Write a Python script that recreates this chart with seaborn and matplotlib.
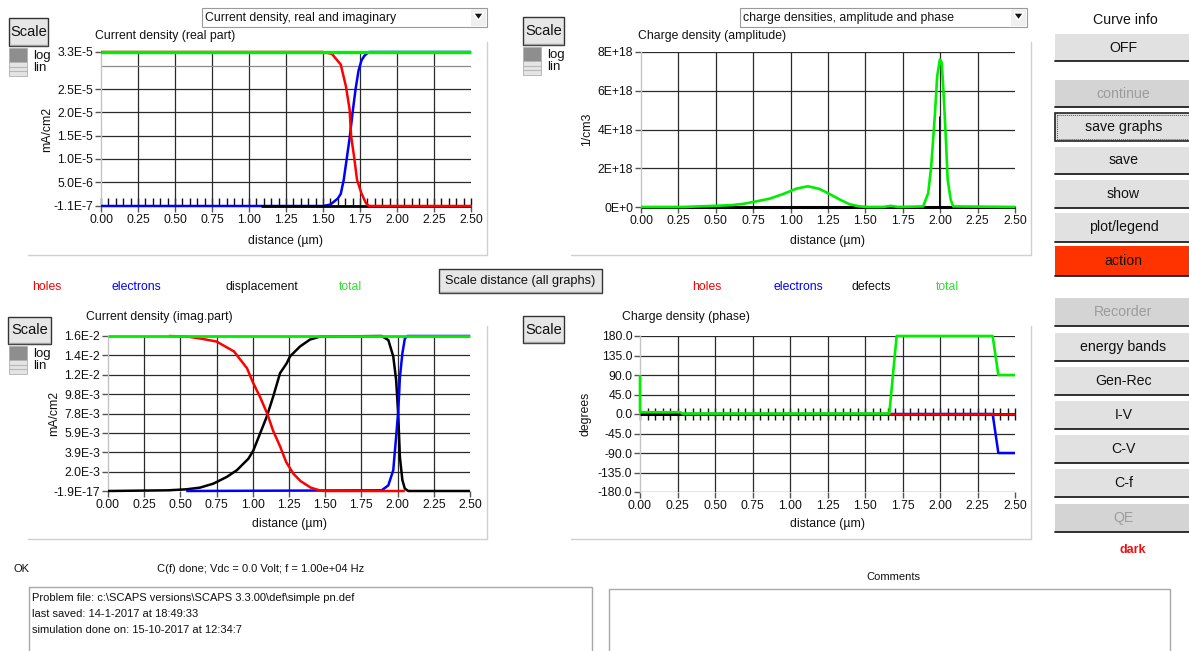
import matplotlib
matplotlib.use('Agg')
import matplotlib.pyplot as plt
import seaborn as sns
from matplotlib.patches import Rectangle, Polygon
from matplotlib.ticker import MultipleLocator, NullFormatter

# ---------------- data ----------------
x_ticks = [0.0, 0.25, 0.5, 0.75, 1.0, 1.25, 1.5, 1.75, 2.0, 2.25, 2.5]
x_tick_labels = ['0.00', '0.25', '0.50', '0.75', '1.00', '1.25', '1.50', '1.75', '2.00', '2.25', '2.50']

# Top-left: Current density (real part), mA/cm2
tl_y_ticks = [-1.1e-7, 5.0e-6, 1.0e-5, 1.5e-5, 2.0e-5, 2.5e-5, 3.0e-5, 3.3e-5]
tl_y_tick_labels = ['-1.1E-7', '5.0E-6', '1.0E-5', '1.5E-5', '2.0E-5', '2.5E-5', '', '3.3E-5']
tl_electrons_x = [0.0, 1.50, 1.55, 1.60, 1.62, 1.64, 1.66, 1.68, 1.70, 1.72, 1.74, 1.76, 1.78, 1.81, 2.50]
tl_electrons_y = [-1.1e-7, -1.1e-7, 2e-7, 1.5e-6, 2.5e-6, 5.5e-6, 1.0e-5, 1.45e-5, 2.0e-5, 2.5e-5, 2.9e-5, 3.12e-5, 3.22e-5, 3.3e-5, 3.3e-5]
tl_displacement_x = [1.08, 2.50]
tl_displacement_y = [-1.1e-7, -1.1e-7]
tl_holes_x = [0.0, 1.50, 1.56, 1.62, 1.655, 1.68, 1.69, 1.71, 1.73, 1.76, 1.79, 1.81, 2.50]
tl_holes_y = [3.3e-5, 3.3e-5, 3.26e-5, 3.03e-5, 2.56e-5, 2.06e-5, 1.49e-5, 1.05e-5, 5.5e-6, 2.6e-6, 5e-7, -1.1e-7, -1.1e-7]
tl_total_x = [0.0, 2.50]
tl_total_y = [3.3e-5, 3.3e-5]

# Top-right: Charge density (amplitude), 1/cm3
tr_y_ticks = [0, 2e18, 4e18, 6e18, 8e18]
tr_y_tick_labels = ['0E+0', '2E+18', '4E+18', '6E+18', '8E+18']
tr_defects_x = [0.0, 2.50]
tr_defects_y = [0.0, 0.0]
tr_interface_x = [1.993, 1.993]
tr_interface_y = [0.0, 4.7e18]
tr_total_x = [0.0, 0.28, 0.525, 0.61, 0.69, 0.77, 0.86, 0.95, 1.04, 1.116, 1.194, 1.26, 1.33, 1.395, 1.46, 1.51,
              1.62, 1.67, 1.72, 1.886, 1.92, 1.94, 1.964, 1.98, 1.998, 2.01, 2.02, 2.036, 2.05, 2.07, 2.087, 2.50]
tr_total_y = [0.0, 0.0, 0.07e18, 0.10e18, 0.17e18, 0.29e18, 0.43e18, 0.67e18, 0.95e18, 1.07e18, 0.93e18, 0.67e18,
              0.38e18, 0.14e18, 0.03e18, 0.0, 0.0, 0.06e18, 0.0, 0.03e18, 0.72e18, 2.1e18, 4.7e18, 6.76e18, 7.62e18,
              7.45e18, 6.24e18, 3.83e18, 1.41e18, 0.38e18, 0.03e18, 0.0]

# Bottom-left: Current density (imag. part), mA/cm2
bl_y_ticks = [0.0, 1.96e-3, 3.92e-3, 5.87e-3, 7.83e-3, 9.79e-3, 1.175e-2, 1.37e-2, 1.566e-2]
bl_y_tick_labels = ['-1.9E-17', '2.0E-3', '3.9E-3', '5.9E-3', '7.8E-3', '9.8E-3', '1.2E-2', '1.4E-2', '1.6E-2']
bl_displacement_x = [0.0, 0.417, 0.54, 0.635, 0.727, 0.82, 0.89, 0.97, 1.004, 1.05, 1.096, 1.14, 1.188, 1.234,
                     1.257, 1.326, 1.395, 1.464, 1.89, 1.936, 1.97, 1.99, 2.005, 2.016, 2.033, 2.05, 2.074, 2.50]
bl_displacement_y = [0.0, 7e-5, 1.7e-4, 3.4e-4, 7.4e-4, 1.42e-3, 2.1e-3, 3.27e-3, 4.1e-3, 5.8e-3, 7.5e-3, 9.5e-3,
                     1.19e-2, 1.29e-2, 1.36e-2, 1.46e-2, 1.53e-2, 1.56e-2, 1.566e-2, 1.525e-2, 1.36e-2, 1.12e-2,
                     7.5e-3, 3.4e-3, 1.1e-3, 2.4e-4, 0.0, 0.0]
bl_electrons_x = [0.54, 1.89, 1.936, 1.97, 1.99, 2.005, 2.016, 2.033, 2.05, 2.067, 2.50]
bl_electrons_y = [0.0, 7e-5, 5.7e-4, 2.1e-3, 5.5e-3, 8.2e-3, 1.15e-2, 1.39e-2, 1.54e-2, 1.566e-2, 1.566e-2]
bl_holes_x = [0.42, 0.55, 0.64, 0.75, 0.87, 0.96, 1.00, 1.05, 1.10, 1.14, 1.19, 1.23, 1.28, 1.33, 1.40, 1.46, 1.50, 2.05]
bl_holes_y = [1.566e-2, 1.56e-2, 1.54e-2, 1.51e-2, 1.41e-2, 1.24e-2, 1.10e-2, 9.5e-3, 7.8e-3, 6.1e-3, 4.45e-3,
              2.94e-3, 1.75e-3, 1.0e-3, 3.4e-4, 7e-5, 0.0, 0.0]
bl_total_x = [0.0, 2.50]
bl_total_y = [1.566e-2, 1.566e-2]

# Bottom-right: Charge density (phase), degrees
br_y_ticks = [-180, -135, -90, -45, 0, 45, 90, 135, 180]
br_y_tick_labels = ['-180.0', '-135.0', '-90.0', '-45.0', '0.0', '45.0', '90.0', '135.0', '180.0']
br_defects_x = [0.0, 2.50]
br_defects_y = [0.0, 0.0]
br_electrons_x = [0.28, 2.351, 2.389, 2.50]
br_electrons_y = [0.0, 0.0, -90.0, -90.0]
br_holes_x = [0.28, 2.50]
br_holes_y = [1.0, 1.0]
br_total_x = [0.0, 0.0, 0.01, 0.27, 0.28, 1.662, 1.711, 2.351, 2.389, 2.50]
br_total_y = [90.0, 5.0, 4.0, 4.0, 1.0, 1.0, 180.0, 180.0, 90.0, 90.0]

RED, BLUE, GREEN, BLACK = '#ff0000', '#0000ff', '#00ee00', '#000000'

# ---------------- figure ----------------
sns.set_style('white')
plt.rcParams['font.family'] = ['Liberation Sans', 'DejaVu Sans']
W, H = 1189, 651
fig = plt.figure(figsize=(W / 100, H / 100), dpi=100)
fig.patch.set_facecolor('white')

bg = fig.add_axes([0, 0, 1, 1], zorder=0)
bg.set_xlim(0, W)
bg.set_ylim(H, 0)
bg.axis('off')


def rect(x0, y0, x1, y1):
    return [x0 / W, 1 - y1 / H, (x1 - x0) / W, (y1 - y0) / H]


def txt(x, y, s, size=8.8, color='#111111', ha='left', weight='normal', **kw):
    bg.text(x, y, s, fontsize=size, color=color, ha=ha, va='center', weight=weight, **kw)


def button(x0, y0, x1, y1, label, size=10.2, face='#e1e1e1', tcolor='#111111', dark_border=False):
    if dark_border:
        bg.add_patch(Rectangle((x0, y0), x1 - x0, y1 - y0, facecolor=face, edgecolor='#222222', lw=1.2))
        bg.add_patch(Rectangle((x0 + 2, y0 + 2), x1 - x0 - 4, y1 - y0 - 4, facecolor='none',
                               edgecolor='#555555', lw=0.7, ls=(0, (1, 1))))
    else:
        bg.add_patch(Rectangle((x0, y0), x1 - x0, y1 - y0, facecolor=face, edgecolor='none'))
        bg.plot([x0, x1], [y1, y1], color='#202020', lw=1.3)
    bg.text((x0 + x1) / 2, (y0 + y1) / 2, label, fontsize=size, color=tcolor, ha='center', va='center')


def scale_button(x0, y0, x1, y1):
    bg.add_patch(Rectangle((x0, y0), x1 - x0, y1 - y0, facecolor='#e6e6e6', edgecolor='#333333', lw=1.0))
    bg.plot([x0 + 1, x1 - 1], [y1 - 1.5, y1 - 1.5], color='#a0a0a0', lw=1.0)
    bg.text((x0 + x1) / 2, (y0 + y1) / 2, 'Scale', fontsize=10.5, color='#111111', ha='center', va='center')


def loglin(x0, y0):
    bg.add_patch(Rectangle((x0, y0), 18, 14, facecolor='#8e8e8e', edgecolor='#b0b0b0', lw=0.6))
    bg.add_patch(Rectangle((x0, y0 + 14), 18, 14, facecolor='#e4e4e4', edgecolor='#b0b0b0', lw=0.6))
    bg.plot([x0, x0 + 18], [y0 + 19, y0 + 19], color='#b8b8b8', lw=0.8)
    bg.plot([x0, x0 + 18], [y0 + 23, y0 + 23], color='#b8b8b8', lw=0.8)
    txt(x0 + 24, y0 + 8, 'log', size=9.5)
    txt(x0 + 24, y0 + 20, 'lin', size=9.5)


def dropdown(x0, x1, label):
    bg.add_patch(Rectangle((x0, 8), x1 - x0, 19, facecolor='white', edgecolor='#9a9a9a', lw=0.8))
    bg.add_patch(Rectangle((x1 - 16, 9), 15, 17, facecolor='#efefef', edgecolor='none'))
    bg.add_patch(Polygon([[x1 - 13.5, 13], [x1 - 3.5, 13], [x1 - 8.5, 20]], closed=True, facecolor='#111111'))
    txt(x0 + 3, 17.5, label, size=8.8)


# panel borders
border = dict(color='#cfcfcf', lw=1.0)
bg.plot([487, 487], [42, 255], **border)
bg.plot([28, 487], [255, 255], **border)
bg.plot([1031, 1031], [42, 255], **border)
bg.plot([571, 1031], [255, 255], **border)
bg.plot([487, 487], [326, 539], **border)
bg.plot([28, 487], [539, 539], **border)
bg.plot([1031, 1031], [326, 539], **border)
bg.plot([571, 1031], [539, 539], **border)

dropdown(202, 487, 'Current density, real and imaginary')
dropdown(740, 1027, 'charge densities, amplitude and phase')

scale_button(9, 18, 48, 46)
scale_button(523, 17, 564, 45)
scale_button(8, 317, 51, 344)
scale_button(523, 316, 564, 343)
loglin(9, 48)
loglin(523, 47)
loglin(9, 346)

txt(95, 36, 'Current density (real part)')
txt(638, 36, 'Charge density (amplitude)')
txt(86, 317, 'Current density (imag.part)')
txt(622, 317, 'Charge density (phase)')

# legends
for x, s, c in [(32, 'holes', RED), (112, 'electrons', BLUE), (226, 'displacement', '#111111'), (339, 'total', '#33dd33'),
                (692, 'holes', RED), (773, 'electrons', BLUE), (851, 'defects', '#111111'), (936, 'total', '#33dd33')]:
    txt(x, 287, s, color=c)

# scale distance button
bg.add_patch(Rectangle((439, 269), 163, 24, facecolor='#e6e6e6', edgecolor='#333333', lw=1.0))
bg.plot([440, 601], [291.5, 291.5], color='#a0a0a0', lw=1.0)
bg.text(520, 281, 'Scale distance (all graphs)', fontsize=9.2, ha='center', va='center', color='#111111')

# right-hand panel
bg.text(1125, 20, 'Curve info', fontsize=10.2, ha='center', va='center', color='#111111')
right_buttons = [('OFF', 34, 61, 'n'), ('continue', 80, 107, 'd'), ('save graphs', 113, 141, 'f'),
                 ('save', 147, 174, 'n'), ('show', 180, 208, 'n'), ('plot/legend', 213, 242, 'n'),
                 ('action', 246, 276, 'a'), ('Recorder', 298, 326, 'd'), ('energy bands', 333, 361, 'n'),
                 ('Gen-Rec', 367, 395, 'n'), ('I-V', 401, 429, 'n'), ('C-V', 435, 463, 'n'),
                 ('C-f', 469, 497, 'n'), ('QE', 504, 532, 'd')]
for lab, y0, y1, kind in right_buttons:
    if kind == 'n':
        button(1055, y0, 1192, y1, lab)
    elif kind == 'd':
        button(1055, y0, 1192, y1, lab, face='#d4d4d4', tcolor='#9c9c9c')
    elif kind == 'f':
        button(1055, y0, 1192, y1, lab, dark_border=True)
    else:
        button(1055, y0, 1192, y1, lab, face='#ff3300')
bg.text(1133, 550, 'dark', fontsize=9, ha='center', va='center', color='#ee1111', weight='bold')

# bottom status area
txt(14, 569, 'OK', size=8)
txt(157, 569, 'C(f) done; Vdc = 0.0 Volt; f = 1.00e+04 Hz', size=8)
bg.text(893, 577, 'Comments', fontsize=8, ha='center', va='center', color='#111111')
bg.add_patch(Rectangle((29, 587), 563, 70, facecolor='white', edgecolor='#a8a8a8', lw=1.0))
bg.add_patch(Rectangle((609, 589), 561, 70, facecolor='white', edgecolor='#a8a8a8', lw=1.0))
txt(32, 598, 'Problem file: c:\\SCAPS versions\\SCAPS 3.3.00\\def\\simple pn.def', size=8)
txt(32, 614, 'last saved: 14-1-2017 at 18:49:33', size=8)
txt(32, 630, 'simulation done on: 15-10-2017 at 12:34:7', size=8)


# ---------------- plots ----------------
def make_axes(px, ylim, yticks, ylabels, ylabel, label_y_px, series, zero_ticks=None, grid_gray=()):
    x0, y0, x1, y1 = px
    ax = fig.add_axes(rect(x0, y0, x1, y1), zorder=2)
    ax.set_facecolor('none')
    for name, (xs, ys, c, lw) in series.items():
        sns.lineplot(x=xs, y=ys, ax=ax, color=c, lw=lw, estimator=None, sort=False, zorder=3,
                     legend=False, clip_on=False, solid_joinstyle='round', solid_capstyle='butt')
    ax.set_xlim(0, 2.5)
    ax.set_ylim(*ylim)
    ax.set_xticks(x_ticks)
    ax.set_xticklabels(x_tick_labels)
    ax.set_yticks(yticks)
    ax.set_yticklabels(ylabels)
    ax.grid(True, color='#2a2a2a', lw=0.9)
    ax.set_axisbelow(True)
    ax.get_xgridlines()[-1].set_visible(False)
    ax.get_xgridlines()[0].set_visible(False)
    for i in grid_gray:
        ax.get_ygridlines()[i].set_color('#8a8a8a')
    for s in ['top', 'right', 'bottom']:
        ax.spines[s].set_visible(False)
    ax.spines['left'].set_color('#c4c4c4')
    ax.spines['left'].set_linewidth(1.0)
    ax.spines['left'].set_zorder(1)
    ax.tick_params(axis='both', which='major', direction='out', length=4, width=1, color='#555555',
                   labelsize=8.8, labelcolor='#111111', pad=1.5, left=True, bottom=True)
    for lbl, tk in zip(ylabels, ax.yaxis.get_major_ticks()):
        if lbl == '':
            tk.tick1line.set_visible(False)
    ax.set_xlabel('distance (µm)', fontsize=8.8, color='#111111')
    ax.set_ylabel(ylabel, fontsize=8.8, color='#111111')
    h = y1 - y0
    w = x1 - x0
    ax.xaxis.set_label_coords(0.5, -(label_y_px - y1) / h)
    ax.xaxis.label.set_va('center')
    ax.yaxis.set_label_coords(-54 / w, 0.5)
    ax.yaxis.label.set_va('center')
    ax.yaxis.label.set_ha('center')
    if zero_ticks is not None:
        loc = (0 - ylim[0]) / (ylim[1] - ylim[0])
        sec = ax.secondary_xaxis(loc)
        for s in sec.spines.values():
            s.set_visible(False)
        sec.set_xticks(x_ticks)
        sec.xaxis.set_minor_locator(MultipleLocator(0.05))
        sec.xaxis.set_major_formatter(NullFormatter())
        sec.xaxis.set_minor_formatter(NullFormatter())
        sec.tick_params(which='both', direction=zero_ticks[0], length=zero_ticks[1], width=1,
                        color='#111111', labelbottom=False, labeltop=False)
    return ax


make_axes((101, 52, 471, 206), (-1.1e-7, 3.3e-5), tl_y_ticks, tl_y_tick_labels, 'mA/cm2', 241,
          {'electrons': (tl_electrons_x, tl_electrons_y, BLUE, 1.8),
           'displacement': (tl_displacement_x, tl_displacement_y, BLACK, 2.0),
           'holes': (tl_holes_x, tl_holes_y, RED, 1.8),
           'total': (tl_total_x, tl_total_y, GREEN, 2.4)},
          zero_ticks=('in', 5), grid_gray=(6,))

make_axes((641, 52, 1015, 207), (0, 8e18), tr_y_ticks, tr_y_tick_labels, '1/cm3', 241,
          {'defects': (tr_defects_x, tr_defects_y, BLACK, 2.2),
           'interface': (tr_interface_x, tr_interface_y, BLACK, 0.7),
           'total': (tr_total_x, tr_total_y, GREEN, 1.9)})

make_axes((108, 336, 470, 491), (0, 1.566e-2), bl_y_ticks, bl_y_tick_labels, 'mA/cm2', 524,
          {'displacement': (bl_displacement_x, bl_displacement_y, BLACK, 1.8),
           'electrons': (bl_electrons_x, bl_electrons_y, BLUE, 1.8),
           'holes': (bl_holes_x, bl_holes_y, RED, 1.8),
           'total': (bl_total_x, bl_total_y, GREEN, 2.0)})

make_axes((640, 336, 1015, 492), (-180, 180), br_y_ticks, br_y_tick_labels, 'degrees', 524,
          {'defects': (br_defects_x, br_defects_y, BLACK, 2.2),
           'electrons': (br_electrons_x, br_electrons_y, BLUE, 1.8),
           'holes': (br_holes_x, br_holes_y, RED, 1.8),
           'total': (br_total_x, br_total_y, GREEN, 1.9)},
          zero_ticks=('inout', 8))

fig.savefig('out.png', dpi=100, facecolor='white')
